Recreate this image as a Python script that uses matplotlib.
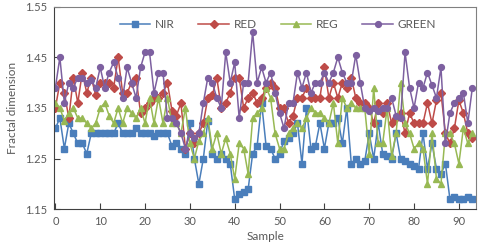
import numpy as np
import matplotlib
matplotlib.use("Agg")
import matplotlib.pyplot as plt

# fractal dimension per sample
nir = [1.31, 1.33, 1.27, 1.32, 1.30, 1.28, 1.28, 1.26, 1.30, 1.30,
       1.30, 1.30, 1.30, 1.30, 1.32, 1.30, 1.30, 1.30, 1.31, 1.30,
       1.30, 1.30, 1.295, 1.30, 1.30, 1.30, 1.275, 1.28, 1.27, 1.26,
       1.32, 1.25, 1.20, 1.25, 1.325, 1.26, 1.25, 1.26, 1.25, 1.24,
       1.17, 1.18, 1.185, 1.19, 1.26, 1.275, 1.36, 1.275, 1.27, 1.25,
       1.26, 1.285, 1.29, 1.30, 1.32, 1.24, 1.35, 1.27, 1.275, 1.32,
       1.27, 1.32, 1.32, 1.33, 1.28, 1.35, 1.24, 1.25, 1.24, 1.245,
       1.30, 1.25, 1.32, 1.26, 1.255, 1.25, 1.30, 1.25, 1.245, 1.24,
       1.235, 1.23, 1.30, 1.23, 1.28, 1.23, 1.22, 1.24, 1.17, 1.175,
       1.17, 1.17, 1.175, 1.17]
red = [1.35, 1.40, 1.38, 1.33, 1.41, 1.36, 1.42, 1.38, 1.41, 1.375,
       1.40, 1.40, 1.40, 1.39, 1.45, 1.38, 1.38, 1.40, 1.41, 1.34,
       1.35, 1.36, 1.37, 1.37, 1.38, 1.40, 1.345, 1.335, 1.36, 1.27,
       1.30, 1.28, 1.30, 1.32, 1.37, 1.375, 1.41, 1.35, 1.36, 1.38,
       1.41, 1.41, 1.35, 1.37, 1.38, 1.36, 1.37, 1.39, 1.40, 1.39,
       1.35, 1.35, 1.32, 1.335, 1.37, 1.37, 1.39, 1.37, 1.37, 1.37,
       1.43, 1.37, 1.40, 1.37, 1.40, 1.39, 1.41, 1.37, 1.36, 1.36,
       1.35, 1.32, 1.36, 1.34, 1.36, 1.32, 1.33, 1.34, 1.30, 1.34,
       1.32, 1.32, 1.32, 1.36, 1.32, 1.365, 1.38, 1.30, 1.28, 1.31,
       1.365, 1.34, 1.30, 1.29]
reg = [1.36, 1.35, 1.325, 1.34, 1.35, 1.33, 1.33, 1.32, 1.31, 1.32,
       1.35, 1.36, 1.335, 1.32, 1.35, 1.32, 1.35, 1.34, 1.33, 1.35,
       1.32, 1.37, 1.32, 1.37, 1.32, 1.37, 1.32, 1.32, 1.30, 1.35,
       1.28, 1.25, 1.285, 1.30, 1.33, 1.27, 1.30, 1.26, 1.29, 1.26,
       1.21, 1.28, 1.27, 1.22, 1.33, 1.34, 1.35, 1.39, 1.37, 1.30,
       1.27, 1.27, 1.30, 1.31, 1.32, 1.31, 1.33, 1.35, 1.34, 1.34,
       1.33, 1.32, 1.36, 1.28, 1.37, 1.35, 1.36, 1.35, 1.35, 1.35,
       1.26, 1.39, 1.28, 1.28, 1.35, 1.255, 1.30, 1.40, 1.32, 1.30,
       1.27, 1.28, 1.27, 1.20, 1.30, 1.21, 1.20, 1.30, 1.30, 1.28,
       1.24, 1.31, 1.28, 1.30]
green = [1.39, 1.45, 1.36, 1.40, 1.39, 1.41, 1.41, 1.40, 1.405, 1.39,
         1.43, 1.39, 1.42, 1.44, 1.41, 1.37, 1.43, 1.40, 1.37, 1.43,
         1.46, 1.46, 1.38, 1.42, 1.42, 1.33, 1.33, 1.32, 1.30, 1.27,
         1.30, 1.29, 1.30, 1.36, 1.41, 1.40, 1.37, 1.35, 1.46, 1.40,
         1.44, 1.33, 1.40, 1.40, 1.50, 1.40, 1.43, 1.40, 1.42, 1.38,
         1.34, 1.31, 1.36, 1.36, 1.42, 1.39, 1.42, 1.38, 1.40, 1.40,
         1.42, 1.40, 1.42, 1.45, 1.42, 1.40, 1.40, 1.455, 1.40, 1.35,
         1.345, 1.35, 1.345, 1.35, 1.35, 1.37, 1.335, 1.33, 1.46, 1.39,
         1.35, 1.40, 1.39, 1.42, 1.395, 1.37, 1.43, 1.28, 1.34, 1.36,
         1.37, 1.38, 1.32, 1.39]
sample = np.arange(len(nir))

series = [("NIR", nir, "#4A7EBB", "s"),
          ("RED", red, "#BE4B48", "D"),
          ("REG", reg, "#98B954", "^"),
          ("GREEN", green, "#7D60A0", "o")]

plt.rcParams['font.family'] = ['Lato', 'DejaVu Sans']
grey = "#595959"

fig = plt.figure(figsize=(4.8, 2.45), dpi=100)
ax = fig.add_axes([0.1135, 0.1457, 0.878, 0.827])

for name, vals, col, mk in series:
    ms = 3.6 if mk == "D" else 4.2
    ax.plot(sample, vals, color=col, lw=1.1, marker=mk, ms=ms,
            mec=col, mfc=col, label=name)

ax.set_xlim(-0.2, 93.8)
ax.set_ylim(1.15, 1.55)
ax.set_xticks(range(0, 100, 10))
ax.set_yticks([1.15, 1.25, 1.35, 1.45, 1.55])
ax.set_yticklabels(["1.15", "1.25", "1.35", "1.45", "1.55"])
ax.tick_params(direction="in", length=4, width=0.8, labelsize=8,
               labelcolor=grey, color="#404040", pad=5)
for s in ["left", "bottom"]:
    ax.spines[s].set_color("#404040")
for s in ["top", "right"]:
    ax.spines[s].set_color("#808080")
for s in ax.spines.values():
    s.set_linewidth(0.8)

ax.set_xlabel("Sample", fontsize=8.5, color=grey, labelpad=3)
ax.set_ylabel("Fractal dimension", fontsize=8.5, color=grey, labelpad=5)

ax.legend(loc="upper center", ncol=4, frameon=False, fontsize=8.5,
          bbox_to_anchor=(0.53, 0.99), handlelength=2.6, handletextpad=0.4,
          columnspacing=2.0, labelcolor=grey)

fig.savefig("out.png", dpi=100)
